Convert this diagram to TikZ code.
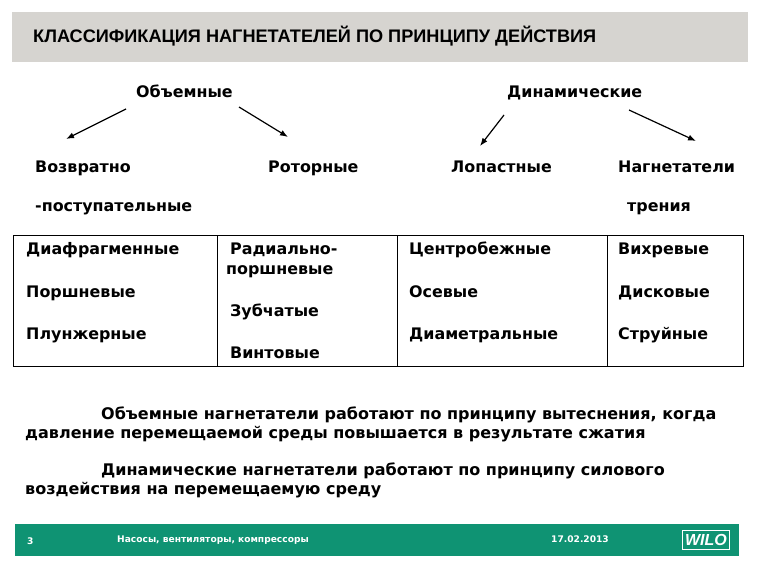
\documentclass[tikz,border=0pt]{standalone}
\usepackage{fontspec}
\usetikzlibrary{arrows.meta}
\setmainfont{DejaVu Sans}
\newfontfamily\headfont{Liberation Sans}
\definecolor{headgrey}{HTML}{D6D4D0}
\definecolor{footgreen}{HTML}{0F9373}
\begin{document}
\begin{tikzpicture}
[
    x=1pt, y=-1pt,
    head/.style={anchor=base west, inner sep=0pt, font=\headfont\fontsize{18.15}{18}\selectfont\bfseries},
    item/.style={anchor=base west, inner sep=0pt, font=\fontsize{15.9}{18}\selectfont\bfseries},
    para/.style={anchor=base west, inner sep=0pt, font=\fontsize{16}{18}\selectfont\bfseries},
    foot/.style={anchor=base west, inner sep=0pt, text=white, font=\fontsize{9.1}{10}\selectfont\bfseries},
    arw/.style={-{Latex[length=8pt,width=6pt]}, line width=1.2pt},
    rule/.style={draw=black, line width=1pt},
]
\useasboundingbox (0,0) rectangle (760,570);
\fill[headgrey] (12,12) rectangle (748,62);
\node[head] (title) at (33,42) {КЛАССИФИКАЦИЯ НАГНЕТАТЕЛЕЙ ПО ПРИНЦИПУ ДЕЙСТВИЯ};

\node[item] (volume) at (136,97) {Объемные};
\node[item] (dynamic) at (507,97) {Динамические};
\node[item] (recip) at (35,172) {Возвратно};
\node[item] (recip2) at (35,211) {-поступательные};
\node[item] (rotary) at (268,172) {Роторные};
\node[item] (blade) at (451,172) {Лопастные};
\node[item] (friction) at (618,172) {Нагнетатели};
\node[item] (friction2) at (627,211) {трения};

\draw[arw] ([shift={(-10,12)}]volume.base west) -- ([shift={(31,-33)}]recip.base west);
\draw[arw] ([shift={(103,10)}]volume.base west) -- ([shift={(20,-35)}]rotary.base west);
\draw[arw] ([shift={(-3,18)}]dynamic.base west) -- ([shift={(29,-26)}]blade.base west);
\draw[arw] ([shift={(122,13)}]dynamic.base west) -- ([shift={(78,-31)}]friction.base west);

\draw[rule] (13,235) rectangle (743,366);
\draw[rule] (217,235) -- (217,366);
\draw[rule] (397,235) -- (397,366);
\draw[rule] (607,235) -- (607,366);

\node[item] (diaphragm) at (26,254) {Диафрагменные};
\node[item] (piston) at (26,297) {Поршневые};
\node[item] (plunger) at (26,339) {Плунжерные};
\node[item] (radial) at (230,254) {Радиально-};
\node[item] (radial2) at (226,274) {поршневые};
\node[item] (gear) at (230,316) {Зубчатые};
\node[item] (screw) at (230,358) {Винтовые};
\node[item] (centrifugal) at (409,254) {Центробежные};
\node[item] (axial) at (409,297) {Осевые};
\node[item] (diametral) at (409,339) {Диаметральные};
\node[item] (vortex) at (618,254) {Вихревые};
\node[item] (disc) at (618,297) {Дисковые};
\node[item] (jet) at (618,339) {Струйные};

\node[para] (note1) at (101,419) {Объемные нагнетатели работают по принципу вытеснения, когда};
\node[para] (note2) at (25,438) {давление перемещаемой среды повышается в результате сжатия};
\node[para] (note3) at (101,475) {Динамические нагнетатели работают по принципу силового};
\node[para] (note4) at (25,494) {воздействия на перемещаемую среду};

\fill[footgreen] (15,524) rectangle (739,556);
\node[foot] (page) at (27,544) {3};
\node[foot] (course) at (117,542) {Насосы, вентиляторы, компрессоры};
\node[foot] (date) at (551,542) {17.02.2013};
\node[draw=white, line width=.6pt, minimum width=47pt, minimum height=19pt, inner sep=0pt, text=white, font=\headfont\fontsize{16}{16}\selectfont\bfseries\itshape] (logo) at (706,540) {WILO};
\end{tikzpicture}
\end{document}
